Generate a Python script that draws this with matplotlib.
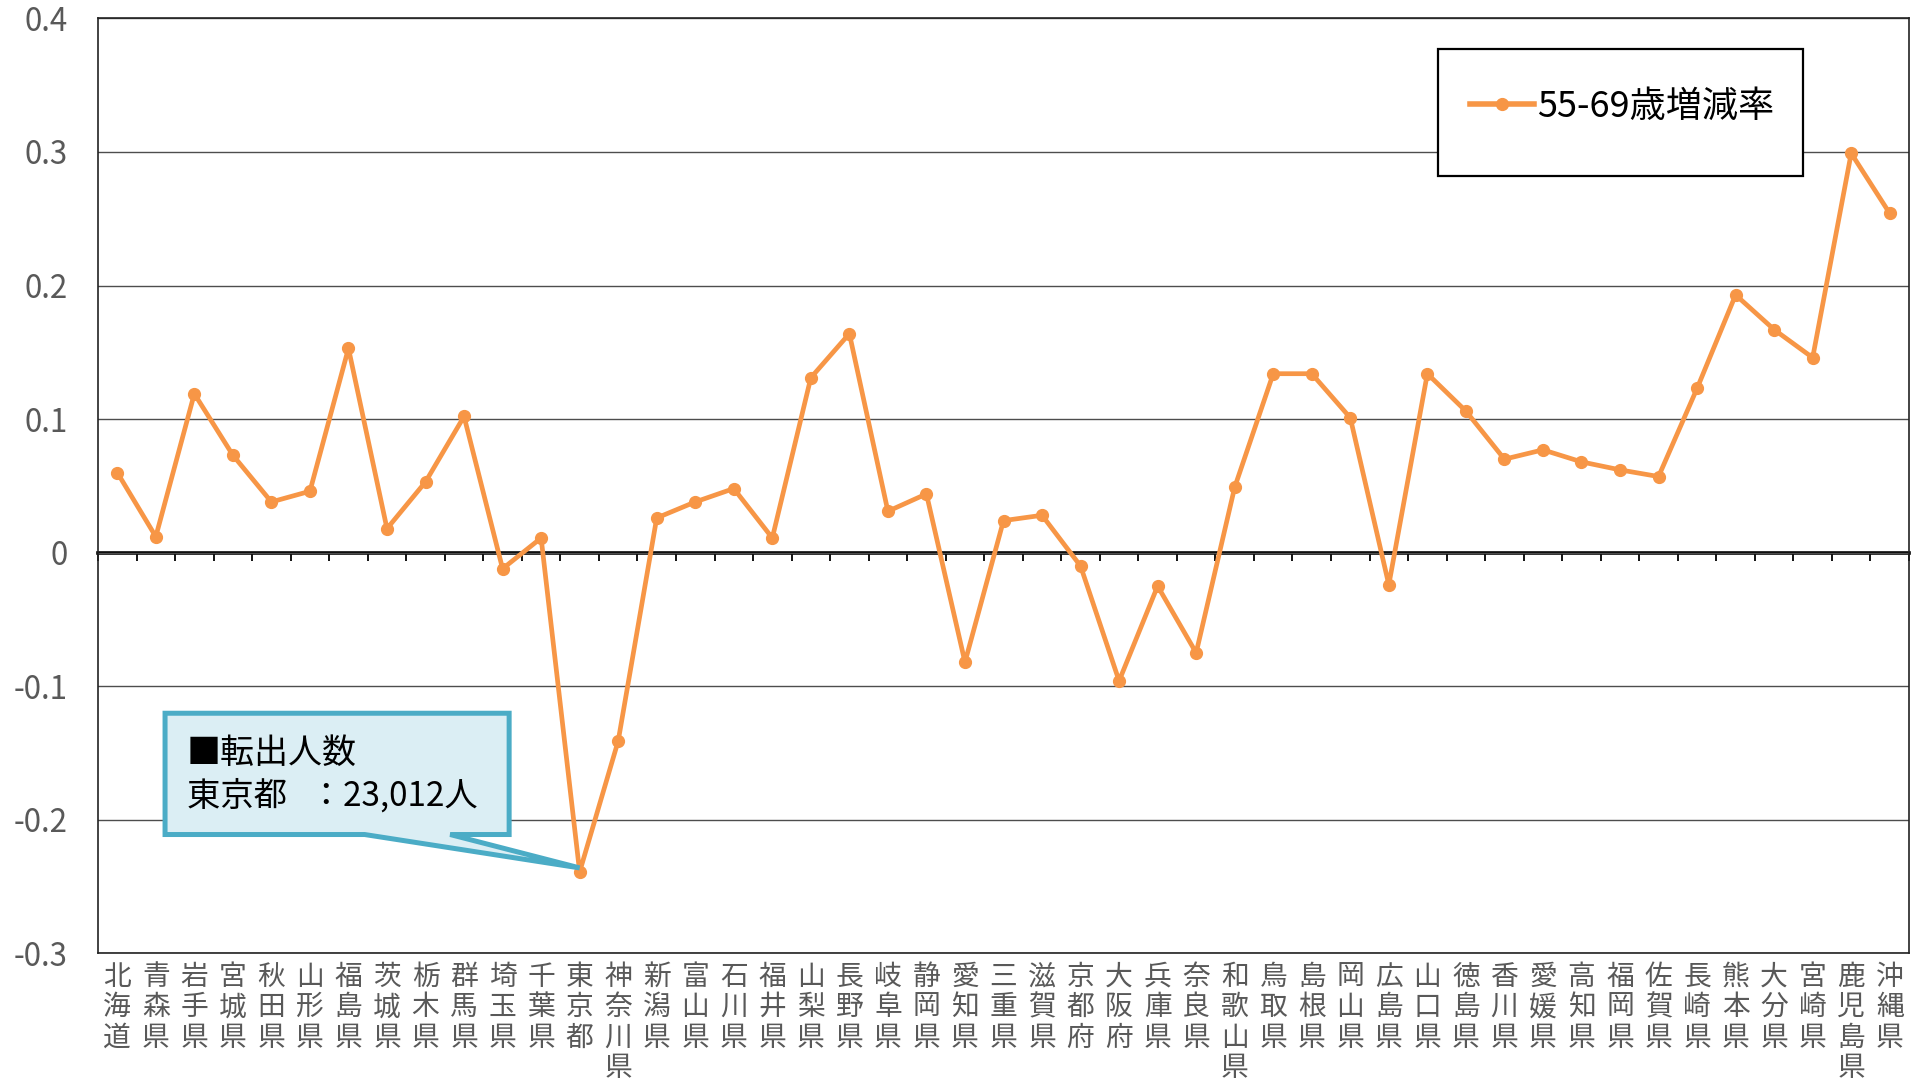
import matplotlib
matplotlib.use("Agg")
import matplotlib.pyplot as plt
from matplotlib.patches import Polygon, Rectangle
from matplotlib.lines import Line2D

plt.rcParams['font.family'] = ['Noto Sans CJK JP', 'DejaVu Sans']

prefectures = ["北海道", "青森県", "岩手県", "宮城県", "秋田県", "山形県", "福島県", "茨城県",
               "栃木県", "群馬県", "埼玉県", "千葉県", "東京都", "神奈川県", "新潟県", "富山県",
               "石川県", "福井県", "山梨県", "長野県", "岐阜県", "静岡県", "愛知県", "三重県",
               "滋賀県", "京都府", "大阪府", "兵庫県", "奈良県", "和歌山県", "鳥取県", "島根県",
               "岡山県", "広島県", "山口県", "徳島県", "香川県", "愛媛県", "高知県", "福岡県",
               "佐賀県", "長崎県", "熊本県", "大分県", "宮崎県", "鹿児島県", "沖縄県"]

rate_55_69 = [0.060, 0.012, 0.119, 0.073, 0.038, 0.046, 0.153, 0.018,
              0.053, 0.102, -0.012, 0.011, -0.239, -0.141, 0.026, 0.038,
              0.048, 0.011, 0.131, 0.164, 0.031, 0.044, -0.082, 0.024,
              0.028, -0.010, -0.096, -0.025, -0.075, 0.049, 0.134, 0.134,
              0.101, -0.024, 0.134, 0.106, 0.070, 0.077, 0.068, 0.062,
              0.057, 0.123, 0.193, 0.167, 0.146, 0.299, 0.254]

series_label = "55-69歳増減率"
yticks = [-0.3, -0.2, -0.1, 0.0, 0.1, 0.2, 0.3, 0.4]
ytick_labels = ["-0.3", "-0.2", "-0.1", "0", "0.1", "0.2", "0.3", "0.4"]
callout_title = "■転出人数"
callout_text = "東京都   ：23,012人"
callout_target = "東京都"

W, H = 1919, 1083
fig = plt.figure(figsize=(W / 100, H / 100), dpi=100)
ax = fig.add_axes([98 / W, 1 - 953.4 / H, (1909 - 98) / W, (953.4 - 18.4) / H])

orange = "#F79646"
gray_txt = "#595959"
n = len(prefectures)
xs = list(range(n))

ax.set_xlim(-0.5, n - 0.5)
ax.set_ylim(-0.3, 0.4)

# gridlines
for y in yticks:
    ax.axhline(y, color="#4d4d4d", lw=1.0, zorder=1)

line, = ax.plot(xs, rate_55_69, color=orange, lw=3.4, marker="o", markersize=8.5,
                markerfacecolor=orange, markeredgecolor=orange, zorder=3)

# y axis
ax.set_yticks(yticks)
ax.set_yticklabels(ytick_labels)
ax.tick_params(axis="y", length=0, pad=22, labelsize=22.5, labelcolor=gray_txt)

# category labels (vertical stacked)
ax.set_xticks(xs)
ax.set_xticklabels(["\n".join(p) for p in prefectures], linespacing=1.02,
                   va="top")
ax.tick_params(axis="x", length=0, pad=6, labelsize=20, labelcolor=gray_txt)

for s in ax.spines.values():
    s.set_color("#222222")
    s.set_linewidth(1.2)

# category axis crossing at zero, ticks at category boundaries
zero_pos = (0 - (-0.3)) / 0.7
sec = ax.secondary_xaxis(zero_pos)
sec.set_xticks([i - 0.5 for i in range(n + 1)])
sec.set_xticklabels([])
sec.tick_params(axis="x", direction="out", length=6, width=1.3, color="black")
sec.spines["bottom"].set_linewidth(2.6)
sec.spines["bottom"].set_color("black")

# callout
ti = prefectures.index(callout_target)
tx, ty = ti, rate_55_69[ti] + 0.003
L, R, T, B = 1.24, 10.17, -0.1202, -0.2110
p1, p2 = 6.42, 8.64
poly = Polygon([(L, T), (R, T), (R, B), (p2, B), (tx, ty), (p1, B), (L, B)],
               closed=True, facecolor="#DBEEF4", edgecolor="#4BACC6", lw=3.6,
               joinstyle="miter", zorder=5)
ax.add_patch(poly)
ax.text(1.80, -0.1500, callout_title, fontsize=24.5, color="black", va="center",
        ha="left", zorder=6)
ax.text(1.80, -0.1825, callout_text, fontsize=24, color="black", va="center",
        ha="left", zorder=6)

# legend box
x0, y0, x1, y1 = 1438, 49, 1803, 176
rect = Rectangle((x0 / W, 1 - y1 / H), (x1 - x0) / W, (y1 - y0) / H,
                 transform=fig.transFigure, facecolor="white", edgecolor="black",
                 lw=1.6, zorder=6)
fig.add_artist(rect)
handle = Line2D([], [], color=orange, lw=4.0, marker="o", markersize=8.5,
                markerfacecolor=orange, markeredgecolor=orange)
leg = fig.legend([handle], [series_label], loc="center",
                 bbox_to_anchor=((x0 + x1) / 2 / W + 0.001, 1 - 107 / H),
                 frameon=False, fontsize=26, handlelength=1.75, handletextpad=0.1,
                 borderpad=0)
leg.set_zorder(7)

fig.savefig("out.png", dpi=100)
